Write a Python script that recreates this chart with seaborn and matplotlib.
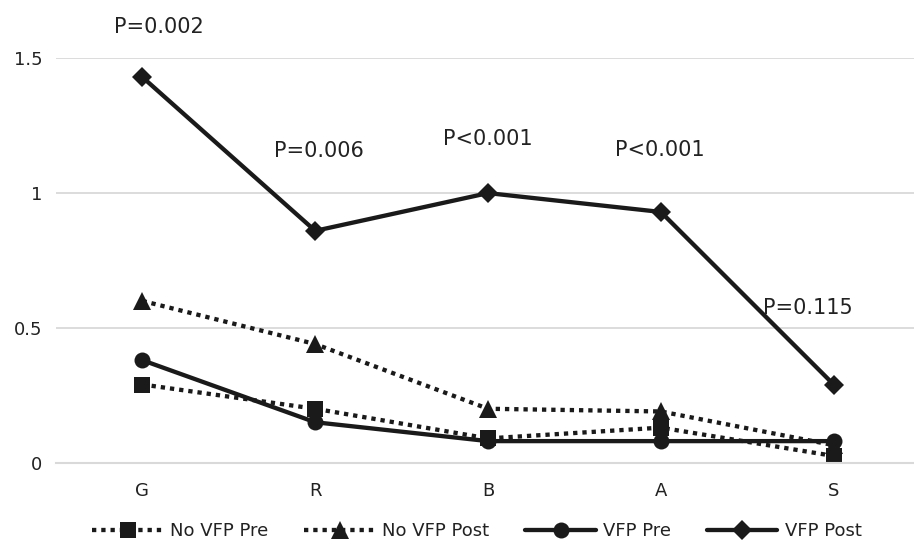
import numpy as np
import pandas as pd
import matplotlib
matplotlib.use("Agg")
import matplotlib.pyplot as plt
import seaborn as sns

# values
categories = ["G", "R", "B", "A", "S"]
no_vfp_pre = [0.29, 0.20, 0.09, 0.13, 0.025]
no_vfp_post = [0.60, 0.44, 0.20, 0.19, 0.065]
vfp_pre = [0.38, 0.15, 0.08, 0.08, 0.08]
vfp_post = [1.43, 0.86, 1.00, 0.93, 0.29]
series_names = ["No VFP Pre", "No VFP Post", "VFP Pre", "VFP Post"]
p_labels = ["P=0.002", "P=0.006", "P<0.001", "P<0.001", "P=0.115"]
y_ticks = [0, 0.5, 1, 1.5]
y_tick_labels = ["0", "0.5", "1", "1.5"]

df = pd.DataFrame({
    "cat": categories * 4,
    "value": no_vfp_pre + no_vfp_post + vfp_pre + vfp_post,
    "series": np.repeat(series_names, len(categories)),
})

sns.set_style("white")
plt.rcParams["font.family"] = ["DejaVu Sans"]
ink = "#1a1a1a"
grid_c = "#d9d9d9"

fig = plt.figure(figsize=(9.14, 5.52), dpi=100)
ax = fig.add_axes([0.0613, 0.1618, 0.9387, 0.7326])

sns.lineplot(
    data=df, x="cat", y="value", hue="series", style="series",
    hue_order=series_names, style_order=series_names,
    palette=[ink] * 4,
    dashes={"No VFP Pre": (1, 1.15), "No VFP Post": (1, 1.15),
            "VFP Pre": "", "VFP Post": ""},
    markers={"No VFP Pre": "s", "No VFP Post": "^",
             "VFP Pre": "o", "VFP Post": "D"},
    sort=False, legend=False, ax=ax,
    linewidth=3.1, markersize=11.5, markeredgewidth=0,
)
lines = ax.get_lines()[:4]
lines[3].set_markersize(10.5)
lines[1].set_markersize(12.5)

ax.set_xlim(-0.5, 4.465)
ax.set_ylim(0, 1.5)
ax.set_yticks(y_ticks)
ax.set_yticklabels(y_tick_labels)
ax.set_xlabel("")
ax.set_ylabel("")
ax.yaxis.grid(True, color=grid_c, linewidth=1.3)
ax.set_axisbelow(True)
for s in ["top", "right", "left"]:
    ax.spines[s].set_visible(False)
ax.spines["bottom"].set_color(grid_c)
ax.spines["bottom"].set_linewidth(1.5)

ax.tick_params(axis="x", which="major", length=0, pad=14, labelsize=13, labelcolor="#222222")
ax.tick_params(axis="y", length=0, pad=10, labelsize=13, labelcolor="#222222")
ax.set_xticks(np.arange(-0.5, 4.0, 1.0), minor=True)
ax.tick_params(axis="x", which="minor", length=6, width=1.5, color=grid_c)

# p-value annotations above each category
p_offsets = [(0.095, 1.615), (1.02, 1.156), (2.0, 1.2), (2.995, 1.16), (3.85, 0.575)]
for lab, (px, py) in zip(p_labels, p_offsets):
    ax.text(px, py, lab, ha="center", va="center", fontsize=15,
            color="#222222", clip_on=False)

fig.legend(lines, series_names, loc="center", bbox_to_anchor=(477 / 914, 1 - 531 / 552),
           ncol=4, frameon=False, fontsize=13, handlelength=3.9,
           handletextpad=0.4, columnspacing=2.0, labelcolor="#222222")

fig.savefig("out.png", dpi=100)
